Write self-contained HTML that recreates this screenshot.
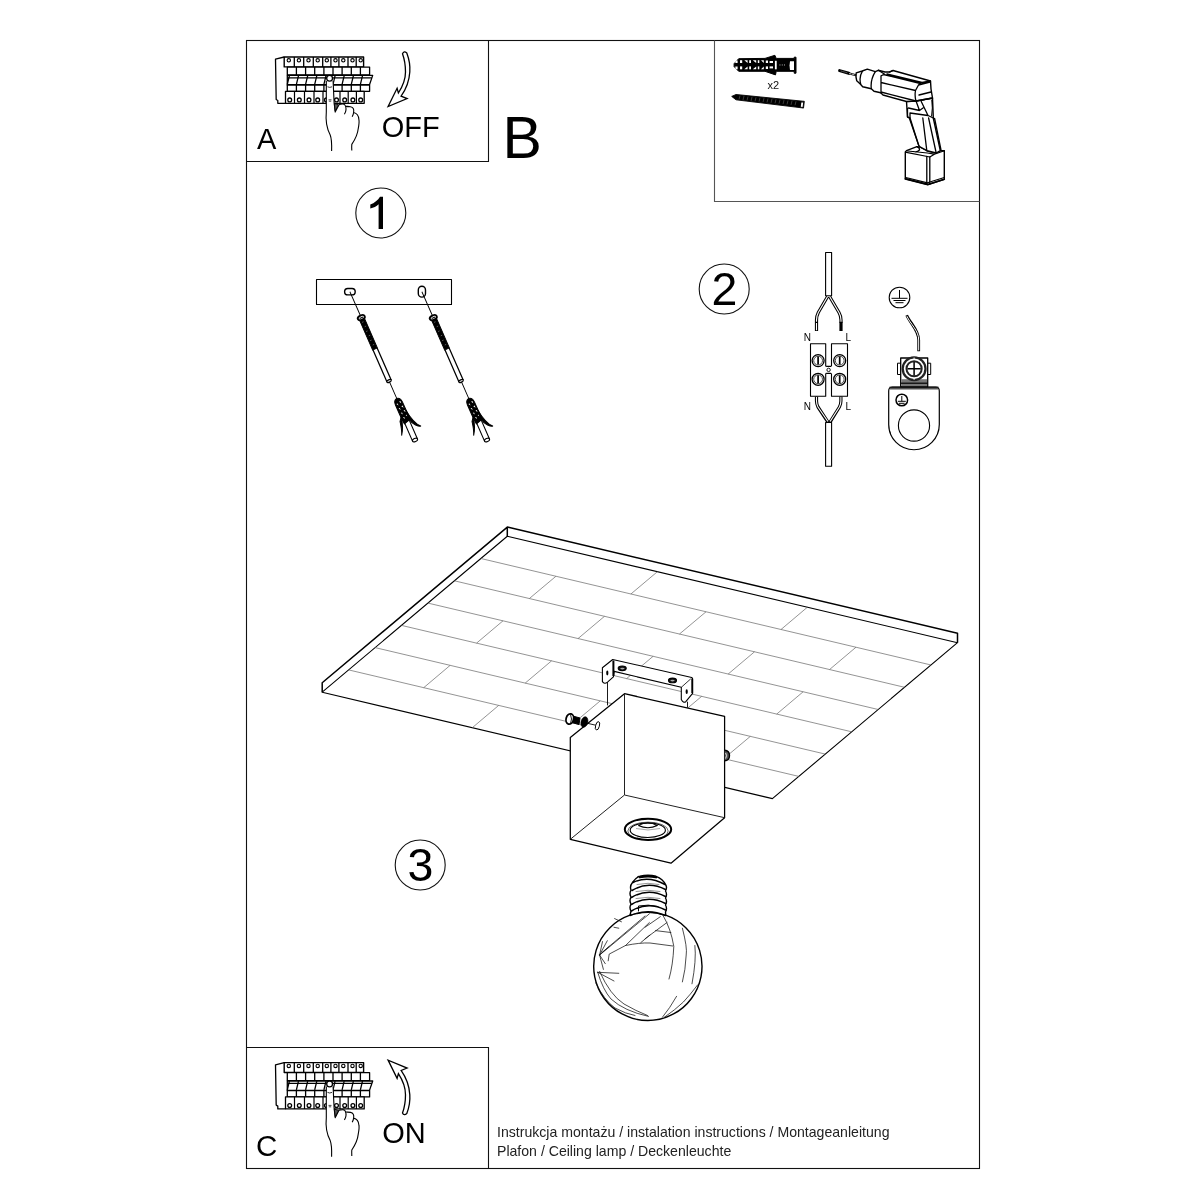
<!DOCTYPE html>
<html><head><meta charset="utf-8">
<style>
html,body{margin:0;padding:0;background:#fff;width:1200px;height:1200px;overflow:hidden}
svg{position:absolute;left:0;top:0;will-change:transform}
text{font-family:"Liberation Sans",sans-serif}
</style></head><body>
<svg width="1200" height="1200" viewBox="0 0 1200 1200">
<defs>
<g id="panel" fill="#fff" stroke="#000" stroke-linejoin="round">
<path d="M284.2 57L275.5 59.2L276.2 99.5L277.8 100.5V103.3H285.5" fill="none" stroke-width="1.3"/>
<rect x="284.2" y="57" width="79.4" height="9.9" stroke-width="1.4"/>
<path d="M294.3 57V66.9M303.7 57V66.9M313.3 57V66.9M322.7 57V66.9M330.9 57V66.9M338.9 57V66.9M348.0 57V66.9M356.2 57V66.9" stroke-width="1.3"/>
<circle cx="288.8" cy="60.3" r="1.7" stroke-width="1.1"/><circle cx="298.9" cy="60.3" r="1.7" stroke-width="1.1"/><circle cx="308.5" cy="60.3" r="1.7" stroke-width="1.1"/><circle cx="317.7" cy="60.3" r="1.7" stroke-width="1.1"/><circle cx="326.8" cy="60.3" r="1.7" stroke-width="1.1"/><circle cx="335.5" cy="60.3" r="1.7" stroke-width="1.1"/><circle cx="343.3" cy="60.3" r="1.7" stroke-width="1.1"/><circle cx="352.5" cy="60.3" r="1.7" stroke-width="1.1"/><circle cx="360.7" cy="60.3" r="1.7" stroke-width="1.1"/>
<rect x="287.3" y="67.1" width="82.3" height="7.9" stroke-width="1.3"/>
<path d="M296.4 67.1V75M305.6 67.1V75M314.7 67.1V75M323.9 67.1V75M333.0 67.1V75M342.1 67.1V75M351.3 67.1V75M360.4 67.1V75" stroke-width="1.3"/>
<path d="M287.3 75.4H372.7L369.4 85H287.3Z" stroke-width="1.3"/>
<path d="M288 77.8H371.8" stroke-width="1.3"/>
<path d="M289.4 75.6L287.3 84.3M298.5 75.6L296.4 84.3M307.7 75.6L305.6 84.3M316.8 75.6L314.7 84.3M326.0 75.6L323.9 84.3M335.1 75.6L333.0 84.3M344.2 75.6L342.1 84.3M353.4 75.6L351.3 84.3M362.5 75.6L360.4 84.3" stroke-width="1.3"/>
<path d="M287.3 85H369.4" stroke-width="1.8"/>
<rect x="287.3" y="85" width="82.3" height="6.3" stroke-width="1.3"/>
<path d="M296.4 85V91.3M305.6 85V91.3M314.7 85V91.3M323.9 85V91.3M333.0 85V91.3M342.1 85V91.3M351.3 85V91.3M360.4 85V91.3" stroke-width="1.3"/>
<rect x="285.5" y="91.3" width="78.7" height="12" stroke-width="1.3"/>
<path d="M294.5 91.3V103.3M304.5 91.3V103.3M314.0 91.3V103.3M323.0 91.3V103.3M331.5 91.3V103.3M340.0 91.3V103.3M348.2 91.3V103.3M356.4 91.3V103.3" stroke-width="1.2"/>
<circle cx="289.7" cy="99.9" r="1.9" stroke-width="1.3"/><circle cx="299.3" cy="99.9" r="1.9" stroke-width="1.3"/><circle cx="309.0" cy="99.9" r="1.9" stroke-width="1.3"/><circle cx="317.7" cy="99.9" r="1.9" stroke-width="1.3"/><circle cx="326.4" cy="99.9" r="1.9" stroke-width="1.3"/><circle cx="336.5" cy="99.9" r="1.9" stroke-width="1.3"/><circle cx="344.7" cy="99.9" r="1.9" stroke-width="1.3"/><circle cx="352.9" cy="99.9" r="1.9" stroke-width="1.3"/><circle cx="360.7" cy="99.9" r="1.9" stroke-width="1.3"/>
<path d="M326.3 80V112C325.4 121 326 127 330.2 135C332 139.5 331.8 145 331.6 151.1L351.8 150.4Q351.6 146 351.8 144.4Q357.5 136 358.2 128.8Q359.5 122 358.9 119.6Q358.5 113.5 353.6 112.5Q353.5 107.5 349.7 106.8Q346 106.5 345.5 106.1Q344.5 103.8 342.6 104Q340.5 104 339 104.7L335.2 112.1L334.1 102.6L333.1 80Z" stroke="none"/>
<path d="M326.3 81V112C325.4 121 326 127 330.2 135C332 139.5 331.8 145 331.6 151.1M351.8 150.4Q351.6 146 351.8 144.4Q357.5 136 358.2 128.8Q359.5 122 358.9 119.6Q358.5 113.5 353.6 112.5Q354.5 107.5 350.5 106.8Q347 106.5 345.5 106.1Q345 103.8 342.6 104Q340.5 104 339 104.7L335.2 112.1L334.1 102.6L333.1 81M345.5 106.1Q347 110 344.4 114.3M353.6 112.5Q353.5 114 352.2 116.7" fill="none" stroke-width="1.1"/>
<path d="M334.3 103.5L335.2 111L338.6 104.9Z" fill="#555" stroke-width="0.9"/>
<circle cx="329.6" cy="78.3" r="2.9" fill="#fff" stroke-width="1.3"/>
<path d="M327.5 86.8Q329.7 88 332 86.8" fill="none" stroke-width="0.8"/>
<path d="M328.5 99.8H331.5M328.8 101.2H331.2" stroke-width="0.7"/>
</g>
</defs>
<!-- frame -->
<g fill="none" stroke="#111" stroke-width="1.1">
<rect x="246.5" y="40.5" width="733" height="1128"/>
<path d="M246.5 161.5H488.5V40.5"/>
<path d="M714.5 40.5V201.5H979.5" stroke="#555"/>
<path d="M246.5 1047.5H488.5V1168.5"/>
<circle cx="380.8" cy="213" r="25"/>
<circle cx="724.2" cy="289" r="25"/>
<circle cx="420.2" cy="865" r="25"/>
</g>
<g fill="#000">
<text x="257" y="148.5" font-size="29">A</text>
<text x="381.8" y="137" font-size="29">OFF</text>
<text x="502.5" y="157.6" font-size="59">B</text>
<path d="M383 196.7V229H378.6V204.2C376.5 206.3 373.5 207.8 370.3 208.4V204.6C374.5 203 378 200 380 196.7Z"/>
<text x="711.5" y="304.5" font-size="46.5">2</text>
<text x="407.5" y="881.2" font-size="46.5">3</text>
<text x="256" y="1155.6" font-size="29.5">C</text>
<text x="382.3" y="1142.6" font-size="29">ON</text>
<text x="497" y="1137" font-size="14.1" fill="#222">Instrukcja montażu / instalation instructions / Montageanleitung</text>
<text x="497" y="1155.6" font-size="14.1" fill="#222">Plafon / Ceiling lamp / Deckenleuchte</text>
</g>

<!-- ceiling -->
<g fill="none" stroke="#000" stroke-linejoin="round">
<path d="M322.2 692.2L507.3 536.25L957.5 642.7L772.4 798.65Z" fill="#fff" stroke-width="1.1"/>
<path d="M322.2 692.2V682.7L507.3 527.1L957.5 633.2V642.7M507.3 527.1V536.25" stroke-width="1.5"/>
<path stroke="#666" stroke-width="0.7" d="M480.9 558.5L931.1 665.0M454.4 580.8L904.6 687.3M428.0 603.1L878.2 709.5M401.5 625.4L851.7 731.8M375.1 647.6L825.3 754.1M348.6 669.9L798.8 776.4M657.4 571.7L630.9 594.0M807.4 607.2L781.0 629.5M555.9 576.3L529.4 598.5M706.0 611.8L679.5 634.0M856.0 647.2L829.6 669.5M604.5 616.3L578.0 638.6M754.5 651.8L728.1 674.1M503.0 620.8L476.6 643.1M653.1 656.3L626.6 678.6M803.1 691.8L776.7 714.1M551.6 660.8L525.2 683.1M701.7 696.3L675.2 718.6M450.1 665.4L423.7 687.7M600.2 700.9L573.7 723.1M750.3 736.4L723.8 758.6M498.7 705.4L472.3 727.7M648.8 740.9L622.3 763.2"/>
</g>
<!-- box -->
<g fill="#fff" stroke="#000" stroke-width="1.25" stroke-linejoin="round">
<path d="M570.3 737.5L624.5 693.7L724.6 716.3V817.7L671 863.2L570.3 839.3Z"/>
<path d="M624.5 693.7V795L724.6 817.7M624.5 795L570.3 839.3" fill="none" stroke="#222" stroke-width="1"/>
</g>

<!-- bracket -->
<g fill="#fff" stroke="#000" stroke-width="1.1" stroke-linejoin="round">
<path d="M607.5 682.1V705.4M687.5 701.7V707.6" fill="none" stroke-width="0.9"/>
<path d="M612.7 659.5L691.7 677.5Q692.6 677.8 692.6 679V693.3L685.8 701.7Q683.3 703.5 681.3 699.6V687.3L614.2 671.4L613.4 676.9L607.5 682.1Q604.5 684.5 602.4 681.6V667.8Z"/>
<path d="M613.4 660.5V676" fill="none" stroke-width="2"/>
<path d="M692.2 678.5V693" fill="none" stroke-width="1.8"/>
<path d="M681.3 687.3L690.8 678.8" fill="none" stroke-width="0.8"/>
<path d="M613.4 676.9L602.4 681.6" fill="none" stroke-width="0"/>
<ellipse cx="622.2" cy="668.3" rx="4" ry="2.3" fill="#111"/>
<ellipse cx="672.5" cy="680.4" rx="4" ry="2.3" fill="#111"/>
<ellipse cx="622.4" cy="668.6" rx="2.2" ry="0.8" fill="#aaa" stroke="none"/>
<ellipse cx="672.5" cy="680.6" rx="2.2" ry="0.8" fill="#aaa" stroke="none"/>
<ellipse cx="607.3" cy="673" rx="1.1" ry="2.4" fill="#000" stroke="none"/>
<ellipse cx="686.7" cy="691.7" rx="1.1" ry="2.4" fill="#000" stroke="none"/>
</g>
<!-- screws on box -->
<g stroke="#000" stroke-linejoin="round">
<path d="M584 722.5L597 725.5" stroke-width="0.9" fill="none"/>
<ellipse cx="597.5" cy="725.8" rx="1.9" ry="4.3" transform="rotate(15 597.5 725.8)" fill="#fff" stroke-width="0.9"/>
<path d="M571 715.5L580 718L579 724.5L570 722Z" fill="#000" stroke-width="1"/>
<ellipse cx="584.4" cy="722" rx="3.4" ry="5.4" transform="rotate(15 584.4 722)" fill="#000" stroke-width="0.5"/>
<ellipse cx="569.8" cy="719" rx="3.7" ry="5.2" transform="rotate(15 569.8 719)" fill="#fff" stroke-width="1.8"/>
<path d="M570.5 714.5Q572.5 719 570.5 723.5" fill="none" stroke-width="0.9"/>
<path d="M724.6 750.3Q729.5 750.8 729.5 755.5Q729.5 760.5 724.6 760.7" fill="#555" stroke-width="1.4"/><path d="M725.6 753Q727.5 755.5 725.6 758.5" fill="none" stroke="#fff" stroke-width="0.8"/>
</g>
<!-- socket ring -->
<g fill="none" stroke="#000" stroke-linejoin="round">
<ellipse cx="648" cy="829.3" rx="23.2" ry="10.6" stroke-width="2" fill="#fff"/>
<ellipse cx="647.8" cy="830.2" rx="17.6" ry="7.3" stroke-width="1.1"/>
<ellipse cx="648" cy="831" rx="20.2" ry="8.9" stroke-width="0.6"/>
<path d="M638.3 825.6Q648 820.5 657.3 825.6Q648 830 638.3 825.6" stroke-width="1.1"/>
<path d="M636 828.5Q648 831.5 660 828.5" stroke-width="0.5" stroke="#555"/>
</g>
<!-- bulb -->
<g fill="none" stroke="#000" stroke-linejoin="round" stroke-linecap="round">
<path d="M630 915.2A54.15 54.15 0 1 0 665.7 915.2" stroke-width="1.4" fill="#fff"/>
<path d="M632.5 882.5Q636 877 640 876.3Q648 874.3 656 876.3Q663 879 665.5 884.5Q667.5 887.5 665.5 891Q667.5 894.5 665.5 898Q667.5 901.5 665.5 905Q667.5 908.5 665.5 912L665.7 915.5Q648 908 630 915.5L631 911Q629 907.5 631 904Q629 900.5 631 897Q629 893.5 631 890Q629.5 886 632.5 882.5Z" stroke-width="1.4" fill="#fff"/>
<path d="M632 890.5Q648 880.5 665.5 889.5M631.5 897.5Q648 887.5 665.5 896.5M631.5 904.5Q648 894.5 665.5 903.5M631.5 911Q648 901 665.5 910M633 882.5Q648 875 665 884.5" stroke-width="1.5"/>
<path d="M640 877.3Q648 875.5 656 877.3" stroke-width="2.2"/>
<path d="M637 884.5Q648 882 659 884.5M636 891.5Q648 889 660 891.5M636 898.5Q648 896 660 898.5" stroke-width="0.9" stroke="#888"/>
<path d="M638.5 911V906Q648 904 658 906.5" stroke-width="1"/>
<path d="M630 915.5Q648 909.5 665.7 915.5" stroke-width="1.2"/>
<path stroke-width="0.75" stroke="#111" d="M649.4 913.8L599.6 955M645 916L602 952.5M649.4 922.5L625.5 945.5L609.2 954.1L608.2 960.8M625.5 945.5Q640 942.5 650 943L672.8 946M650 935L640.8 942.6M645 927.3L660.3 916.7M645 938.8L667 922.5M655.5 930.6L670.9 932.5M663.2 915.8Q671 929 673.8 946.4Q673 965 669 979M682.4 928.2Q687.5 948 686.2 955Q685.5 970 682.4 981.9M694.9 945.5Q696.5 960 692 983.8M697.7 984.8Q690 995 683.4 1002Q675 1010 664.2 1017.4M676.6 996.3Q670 1008 662.3 1017.4M599.6 955L602.5 941.6M599.6 955L607.3 940.7M599.6 955L609.2 946.4M599.6 955L605.3 963.7M599.6 955L603.4 969.4M597.7 972.3L614 981M597.7 972.3L618.8 973.3M597.7 972.3Q603 990 611 999Q624 1011 648.5 1016.4M595.8 982.9Q604 1000 615 1008Q626 1014 635 1015.5M599.6 971.4Q610 995 624 1004Q636 1011 647.5 1015.5M614.6 918.6L621.5 921.8M614 927.3L618.8 928.2"/>
</g>

<!-- step 1 -->
<g fill="none" stroke="#000" stroke-linejoin="round">
<rect x="316.5" y="279.5" width="135" height="25" stroke-width="1.1" fill="#fff"/>
<rect x="344.6" y="288.5" width="10.6" height="6.4" rx="3.2" stroke-width="1.4"/>
<rect x="418.3" y="286.3" width="7.2" height="10.8" rx="3.6" stroke-width="1.4"/>
</g>
<g id="scr1" transform="translate(349.9 291.7) rotate(-23.7)" stroke="#000" stroke-linejoin="round">
<path d="M0 0V26M0 97V117" stroke-width="0.9" fill="none"/>
<rect x="-2.6" y="28" width="5.2" height="34.5" fill="#000" stroke-width="0.9"/>
<path d="M-1.2 33h1.6M-0.5 38h1.6M-1.2 43h1.6M-0.5 48h1.6M-1.2 53h1.6M-0.5 58h1.6" stroke="#888" stroke-width="0.6"/>
<ellipse cx="0" cy="28.3" rx="3.7" ry="2.3" fill="#fff" stroke-width="1.9"/><path d="M-1.8 28.5H1.8" stroke-width="1"/>
<path d="M-2.3 62.5V97.5M2.3 62.5V97.5" stroke-width="1.25" fill="none"/>
<ellipse cx="0" cy="97.5" rx="2.4" ry="1.2" fill="#fff" stroke-width="1.2"/>
<rect x="-2.7" y="139" width="5.4" height="23" fill="#fff" stroke-width="1.1"/>
<ellipse cx="0" cy="162" rx="2.7" ry="1.6" fill="#fff" stroke-width="1.1"/>
<path d="M0 116.5Q3.6 117 3.8 122L4 141L-3.2 143Q-3.8 138 -3.8 133V122Q-3.8 117 0 116.5Z" fill="#000" stroke-width="1"/>
<path d="M-2.6 121.5l1.4 2.2l0-2.2zM-2.4 126.5l1.4 2.2l0-2.2zM-2.2 131.5l1.4 2.2l0-2.2zM-2 136.5l1.4 2.2l0-2.2zM0.8 120.5l1.5 2.2l0-2.2zM1 125.5l1.5 2.2l0-2.2zM1.2 130.5l1.5 2.2l0-2.2zM1.4 135.5l1.5 2.2l0-2.2z" fill="#fff" stroke="none"/>
<path d="M-3.2 135Q-5.5 146 -10.3 152.3Q-8 148 -6.3 139Z" fill="#000" stroke-width="1"/>
<path d="M3.6 131Q5.5 146 10.8 151.5Q9.5 151.6 6.5 148.5Q3.5 145 2.6 139Z" fill="#000" stroke-width="1"/>
</g>
<use href="#scr1" transform="translate(72 0)"/>

<!-- step 2 -->
<g fill="none" stroke="#000" stroke-linejoin="round">
<rect x="825.6" y="252.5" width="6" height="43.3" stroke-width="1.1" fill="#fff"/>
<rect x="825.6" y="422.5" width="6" height="43.8" stroke-width="1.1" fill="#fff"/>
<path d="M827.6 296.5L818.3 312.5Q816.5 316 816.5 320V331M829.6 296.5L839 312.5Q841 316 841 320V331M816.5 396.5V401Q816.5 404 818 407L828.1 422.3M840.9 396.5V401Q840.9 404 839.4 407L829.9 422.3" stroke-width="3.2"/>
<path d="M827.6 296.5L818.3 312.5Q816.5 316 816.5 320V330.3M829.6 296.5L839 312.5Q841 316 841 320V322M816.5 397V401Q816.5 404 818 407L827.9 421.5M840.9 397V401Q840.9 404 839.4 407L830.1 421.5" stroke-width="1.1" stroke="#fff"/>
<path d="M816.5 322H816.5M841 322" stroke-width="0"/>
<path d="M815 322.3H818M839.5 322.3H842.5" stroke-width="1.2"/>
<path d="M810.5 343.8H825.7V366.4H831.5V343.8H847.5V396.2H831.5V373.4H825.7V396.2H810.5Z" stroke-width="1.1" fill="#fff"/><path d="M825.7 366.4V373.4M831.5 366.4V373.4" stroke="#fff" stroke-width="0.9"/>
<circle cx="828.6" cy="369.9" r="1.7" stroke-width="0.9" fill="#fff"/>
<g stroke-width="1.3"><circle cx="818.1" cy="360.6" r="6"/><circle cx="818.1" cy="379.3" r="6"/><circle cx="839.7" cy="360.6" r="6"/><circle cx="839.7" cy="379.3" r="6"/></g><g stroke-width="0.9" stroke="#333"><circle cx="818.1" cy="360.6" r="4.4"/><circle cx="818.1" cy="379.3" r="4.4"/><circle cx="839.7" cy="360.6" r="4.4"/><circle cx="839.7" cy="379.3" r="4.4"/></g>
<path d="M818.1 356.6V364.6M818.1 375.3V383.3M839.7 356.6V364.6M839.7 375.3V383.3" stroke-width="1.7"/>
</g>
<g fill="#000" font-size="10">
<text x="803.8" y="340.8">N</text><text x="845.5" y="340.8">L</text>
<text x="803.8" y="409.6">N</text><text x="845.5" y="409.6">L</text>
</g>
<!-- ground -->
<g fill="none" stroke="#000" stroke-linejoin="round">
<circle cx="899.5" cy="297.5" r="10.3" stroke-width="1.1"/>
<path d="M899.5 290V298.3M891.5 298.3H907.5M893.5 300.5H905.5M895.5 302.7H903.5" stroke-width="1"/>
<path d="M906.7 315.2C910 323 918.7 330 918.7 340V351.2" stroke-width="2.8"/>
<path d="M906.9 316.2C910.2 323.8 918.7 330.5 918.7 340V350.4" stroke-width="1" stroke="#fff"/>
<path d="M888.7 424.5V391Q888.7 387 892.5 387H935.5Q939.3 387 939.3 391V424.5A25.3 25.3 0 0 1 888.7 424.5Z" stroke-width="1.2" fill="#fff"/>
<path d="M890 388.3H938" stroke-width="2.6" stroke="#555"/><path d="M889.5 387.2H938.5" stroke-width="1"/>
<circle cx="914" cy="425.5" r="15.6" stroke-width="1.1"/>
<circle cx="901.8" cy="400" r="5.8" stroke-width="1.5"/>
<path d="M901.8 396V401.3M897.8 401.3H905.8M899 403.3H904.6" stroke-width="1"/>
<rect x="897.5" y="363.2" width="33.2" height="11.3" stroke-width="1" fill="#fff"/>
<rect x="900.7" y="358" width="27" height="28.6" stroke-width="1.3" fill="#fff"/>
<rect x="901.3" y="379.2" width="25.8" height="7" fill="#777" stroke="none"/>
<path d="M901 383.2H927.5" stroke-width="1.2"/>
<path d="M902 368.75H926" stroke-width="0.8"/>
<circle cx="914.1" cy="368.75" r="11.4" stroke-width="2.3" stroke="#222" fill="#fff"/>
<circle cx="914.1" cy="368.75" r="7.6" stroke-width="2" stroke="#222"/>
<path d="M914.1 362V375.5M907.5 368.75H920.7" stroke-width="1.5"/>
<path d="M914.1 357.5V359.5M914.1 378V380" stroke-width="0.8" stroke="#fff"/>
</g>

<!-- hardware box -->
<g stroke="#000" stroke-linejoin="round">
<path d="M734.1 63.7L738.7 58.7L765 58.4L774.9 55.3L776.2 58.4H794.2V57.2H796V73.2H794.2V71.3H776.2L775.5 74.9L765 71.3L738.7 71.3L734.1 66.6Z" fill="#000" stroke-width="1"/>
<g fill="#fff" stroke="none">
<path d="M735.6 60.6H737.6V63H735.3ZM735.3 66.4H737.6V69.2H735.6Z"/>
<rect x="740" y="60.2" width="2.2" height="2.8"/><rect x="740" y="66.4" width="2.2" height="2.9"/>
<path d="M744.3 60.3L747.6 60.3L747.6 63ZM744.3 69.3L747.6 69.3L747.6 66.4Z"/>
<rect x="749.2" y="60.2" width="1.8" height="2.8"/><rect x="749.2" y="66.4" width="1.8" height="2.9"/>
<path d="M752.8 60.3L756.2 60.3L756.2 63ZM752.8 69.3L756.2 69.3L756.2 66.4Z"/>
<rect x="757.8" y="60.2" width="1.5" height="2.8"/><rect x="757.8" y="66.4" width="1.5" height="2.9"/>
<path d="M761 60.3L763.8 60.3L763.8 63ZM761 69.3L763.8 69.3L763.8 66.4Z"/>
<rect x="765.8" y="60.5" width="2.2" height="2.5"/><rect x="765.8" y="66.4" width="2.2" height="2.6"/>
<rect x="769.6" y="61" width="3.4" height="2"/><rect x="769.6" y="66.4" width="3.4" height="2"/>
<rect x="774.9" y="60.8" width="1.8" height="8.5"/>
<path d="M790 61.2H794V70H790L789.5 65.6Z"/>
<rect x="779.5" y="64.3" width="0.9" height="1.3" fill="#999"/><rect x="781.8" y="64.3" width="0.9" height="1.3" fill="#999"/><rect x="784.1" y="64.3" width="0.9" height="1.3" fill="#999"/>
</g>
<path d="M731.7 96.4L736 94.5L802.8 101.2L804.3 101.3L803.5 108.1L801.6 107.8L736 99.8Z" fill="#000" stroke-width="0.9"/>
<path d="M801.3 102.5L803.2 102.6L802.6 106.9L800.8 106.7Z" fill="#fff" stroke="none"/>
<path d="M740 95.5l-1 4M744 96l-1 4M748 96.5l-1 4M752 97l-1 4M756 97.3l-1 4M760 97.7l-1 4M764 98.1l-1 4M768 98.5l-1 4M772 98.9l-1 4M776 99.3l-1 4M780 99.7l-1 4M784 100.1l-1 4M788 100.5l-1 4M792 100.9l-1 4M796 101.3l-1 4" stroke="#777" stroke-width="0.5" fill="none"/>
</g>
<text x="767.5" y="89.3" font-size="11" fill="#111">x2</text>
<!-- drill -->
<g fill="#fff" stroke="#000" stroke-width="1.4" stroke-linejoin="round" stroke-linecap="round">
<path d="M839.6 70.6L848.8 73.3" stroke-width="3" fill="none"/>
<path d="M841 71l6.5 1.9" stroke="#777" stroke-width="0.7" stroke-dasharray="1 0.8" fill="none"/>
<path d="M848.5 73.2L856 75.3" stroke-width="2.2" fill="none"/>
<path d="M849.5 73.5L855 75" stroke="#fff" stroke-width="0.7" stroke-dasharray="1.6 1.2" fill="none"/>
<!-- battery -->
<path d="M905.3 152L906.5 150.6L916.9 146.6L920.4 147.2L927 150.7L936.2 153L940.3 150.7L944.3 150.7V179.3L928 184.5L905.3 178.7Z"/>
<path d="M906.4 152.4L927.4 156.5L929.8 157L934.4 154.2L944.3 150.7M907.6 151L927.4 153L934.4 154.2M916.9 146.6Q920 148 919.5 150Q917 152.5 913.5 151.5" fill="none" stroke-width="1.2"/>
<path d="M926.8 156.5V184M929.8 157V184" fill="none" stroke-width="1.3"/>
<path d="M905.8 177.5L927.4 182.8L944.3 177.5" fill="none" stroke-width="1.2"/>
<path d="M905.3 178.9L928 184.6L944.3 179.3" fill="none" stroke-width="1.6"/>
<!-- handle -->
<path d="M906.5 101.5L907.5 117L910 118L918.7 145.4L920.4 147.2L927 150.7L936.2 153L940.3 150.7L933.3 118L932.5 98L916 101Z"/>
<path d="M909.3 118L918.7 145.4M922.8 118L926.8 150.7M928.6 118L936.2 153M934.6 118.5L941 150M908.5 108L919.5 110.5L923 108M910 113L928 115.5M916 101L919.5 110.5M921 101L928 115.5L933.3 118M907.5 117V108.5M910 118V113" fill="none" stroke-width="1.3"/>
<path d="M931.8 100Q933 108 931.6 116" fill="none" stroke-width="1"/>
<!-- body -->
<path d="M856.2 72.8L862.3 71L867.3 69.2L875.3 71.7L878.3 70.3L885 72L889.5 72L893 70.5L930.5 81L931 89L932.5 98L916 101L906.5 101.5L883 95L881 93L880.7 92.7L874 91.3L871.3 88.7L862.7 86.7L860 83.7L856.7 80.7L856 77Z"/>
<path d="M862.3 71.3Q858.8 77 860.7 84M875.3 71.7Q870.2 80 871.3 88.7M881 76V93M881 76L883.5 74.5L920.5 83.5M887 74L922 82.5L930.5 81M881 82.5L915.5 90.5M881 92L916 101M915.5 90.5L918.5 85L920.5 83.5M918.5 85L930 82M915.5 90.5Q914.5 96 916 101M919 95L931 92M916 101L932.5 98M889.5 72L893 70.5M878.3 70.3L884.7 74.3" fill="none" stroke-width="1.3"/>
</g>

<use href="#panel"/>
<use href="#panel" transform="translate(0 1005.6)"/>
<path d="M402.5 53.7Q404 50.5 406.8 53.1Q410.5 63 409.8 72Q409 85 401.1 96.2L407.1 98.6L388.1 106.5L397.1 88.3L398.4 93Q405.5 82 405.5 72Q405.5 62 402.5 53.7Z" fill="#fff" stroke="#000" stroke-width="1.3" stroke-linejoin="miter"/>
<path d="M402.5 53.7Q404 50.5 406.8 53.1Q410.5 63 409.8 72Q409 85 401.1 96.2L407.1 98.6L388.1 106.5L397.1 88.3L398.4 93Q405.5 82 405.5 72Q405.5 62 402.5 53.7Z" transform="translate(0 1166.65) scale(1 -1)" fill="#fff" stroke="#000" stroke-width="1.3" stroke-linejoin="miter"/>
</svg>
</body></html>
